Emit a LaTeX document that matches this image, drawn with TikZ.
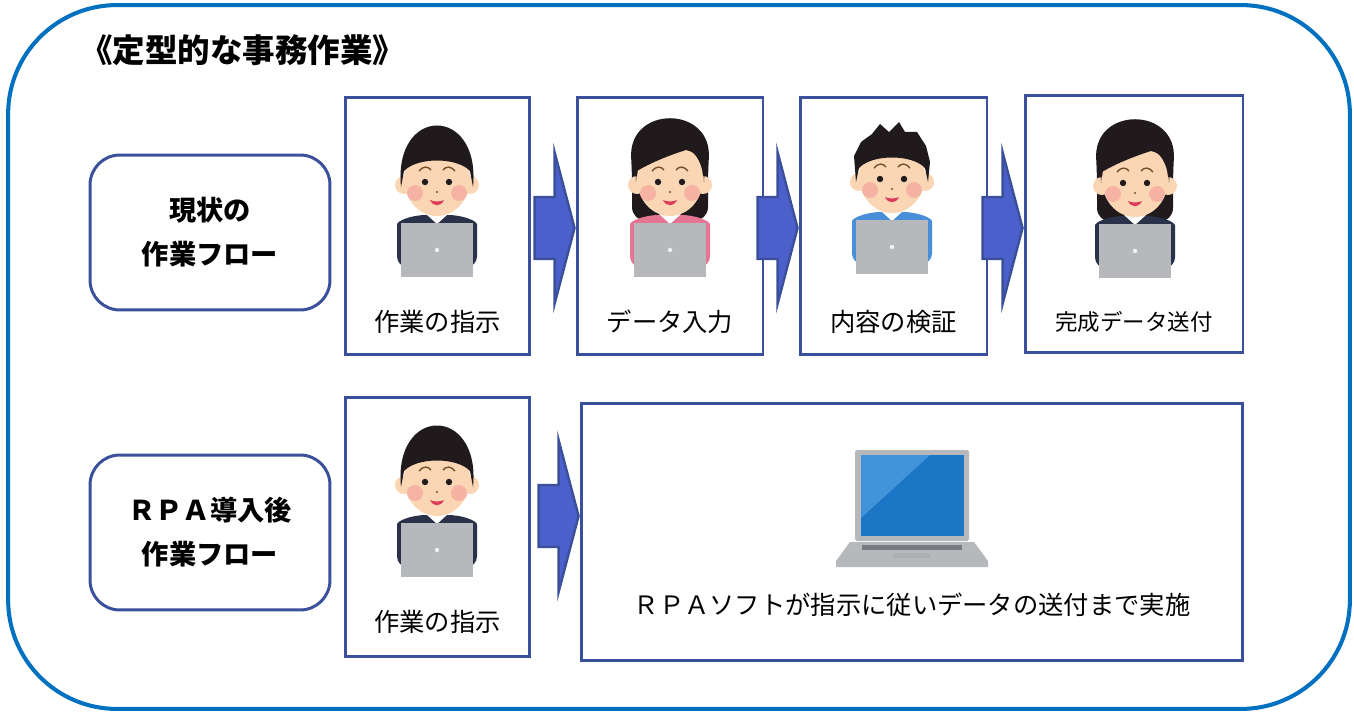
\documentclass[tikz,border=0pt]{standalone}
\usepackage{fontspec}
\setmainfont{Noto Sans CJK JP}
\usetikzlibrary{positioning, calc}
\definecolor{roundblue}{RGB}{0,112,192}
\definecolor{frameblue}{RGB}{59,80,155}
\definecolor{arrowfill}{RGB}{76,96,204}
\definecolor{skin}{RGB}{250,214,180}
\definecolor{cheek}{RGB}{244,150,150}
\definecolor{hairblack}{RGB}{32,26,28}
\definecolor{browcol}{RGB}{120,80,40}
\definecolor{mouthred}{RGB}{220,60,90}
\definecolor{suit}{RGB}{42,50,74}
\definecolor{pinkshirt}{RGB}{228,118,148}
\definecolor{blueshirt}{RGB}{72,142,216}
\definecolor{padgray}{RGB}{182,184,188}
\definecolor{keygray}{RGB}{120,122,128}
\definecolor{screenblue}{RGB}{28,118,198}
\definecolor{screenglare}{RGB}{66,148,218}

\begin{document}
\begin{tikzpicture}[
  x=0.02cm, y=-0.02cm,
  panel/.style={draw=roundblue, line width=2.3pt, rounded corners=62pt},
  lanebox/.style={
    draw=frameblue, line width=1.7pt, rounded corners=17pt,
    minimum width=4.8cm, minimum height=3.1cm, align=center,
    font=\fontsize{15.5}{25}\selectfont\bfseries
  },
  stepbox/.style={draw=frameblue, line width=1.7pt, inner sep=0pt},
  lbl/.style={font=\fontsize{14.4}{17}\selectfont, inner sep=1pt},
  % hair pieces
  pics/shortback/.style={code={}},
  pics/shortfront/.style={code={
    \fill[hairblack] (-36,10) .. controls (-44,-72) and (44,-72) .. (36,10)
      -- (33,-6) .. controls (20,-20) and (-20,-20) .. (-33,-6) -- cycle;
  }},
  pics/spikyback/.style={code={}},
  pics/spikyfront/.style={code={
    \fill[hairblack] (-36,8) -- (-38,-18) -- (-31,-32) -- (-20,-40) -- (-12,-50)
      -- (-3,-42) -- (7,-52) -- (13,-42) -- (25,-42) -- (34,-28) -- (38,-12)
      -- (36,8) -- (33,-6) .. controls (20,-20) and (-20,-20) .. (-33,-6) -- cycle;
  }},
  pics/longback/.style={code={
    \fill[hairblack, rounded corners=8pt] (-38,44) -- (-38,-5)
      .. controls (-42,-72) and (42,-72) .. (38,-5) -- (38,44) -- cycle;
  }},
  pics/longfront/.style={code={
    \fill[hairblack] (-34,5) .. controls (-40,-72) and (40,-72) .. (34,5)
      -- (33,-10) .. controls (28,-22) and (22,-26) .. (16,-27)
      .. controls (0,-22) and (-20,-14) .. (-33,-6) -- cycle;
  }},
  % person at a laptop: #1 hair, #2 shirt colour
  pics/worker/.style 2 args={code={
    \pic {#1back};
    \fill[#2, rounded corners=6pt] (-40,90) -- (-40,58)
      .. controls (-40,44) and (-26,38) .. (0,38)
      .. controls (26,38) and (40,44) .. (40,58) -- (40,90) -- cycle;
    \fill[white] (-11,37) -- (11,37) -- (0,47) -- cycle;
    \fill[skin] (-33,8) circle (9) (33,8) circle (9);
    \fill[skin] (0,2) ellipse (33 and 37);
    \fill[cheek, opacity=0.55] (-22,16) circle (8) (22,16) circle (8);
    \pic {#1front};
    \draw[browcol, line width=0.8pt] (-18,-6) .. controls (-14,-11) and (-9,-11) .. (-6,-7)
      (6,-7) .. controls (9,-11) and (14,-11) .. (18,-6);
    \fill[hairblack] (-12,5) circle (3.2) (12,5) circle (3.2);
    \fill[browcol] (0,15) circle (1.2);
    \fill[mouthred] (-7,23) .. controls (-4,30) and (4,30) .. (7,23)
      .. controls (3,25) and (-3,25) .. (-7,23) -- cycle;
    \fill[padgray] (-36,46) rectangle (36,100);
    \fill[white!80!padgray] (0,73) circle (2.2);
  }},
  % notebook computer
  pics/notebook/.style={code={
    \fill[padgray, rounded corners=1pt] (-57,-50) rectangle (57,41);
    \fill[screenblue] (-51,-45) rectangle (52,36);
    \fill[screenglare] (-51,-45) -- (18,-45) -- (-51,18) -- cycle;
    \fill[padgray] (-62,42) -- (62,42) -- (76,61) -- (76,67) -- (-76,67) -- (-76,61) -- cycle;
    \fill[keygray] (-50,45) rectangle (50,50);
    \fill[keygray!60] (-19,53) rectangle (18,58);
  }},
  % block arrow between steps
  pics/flowarrow/.style={code={
    \filldraw[fill=arrowfill, draw=frameblue, line width=1.4pt]
      (-19,-31) -- (1,-31) -- (1,-76) -- (21,0) -- (1,76) -- (1,31) -- (-19,31) -- cycle;
  }}
]
\useasboundingbox (0,0) rectangle (1354,712);

% outer frame and heading
\node[panel, minimum width=26.84cm, minimum height=14.08cm] (panel) at (679,357) {};
\node[anchor=west, font=\fontsize{18.5}{22}\selectfont\bfseries] (heading) at (74,50) {《定型的な事務作業》};

% lane titles
\node[lanebox] (nowflow) at (210,232.5) {現状の\\作業フロー};
\node[lanebox] (rpaflow) at (210,532.5) {ＲＰＡ導入後\\作業フロー};

% current flow
\node[stepbox, minimum width=3.7cm, minimum height=5.16cm] (order) at (437.5,226) {};
\node[stepbox, minimum width=3.72cm, minimum height=5.16cm] (entry) at (670,226) {};
\node[stepbox, minimum width=3.74cm, minimum height=5.16cm] (check) at (893.5,226) {};
\node[stepbox, minimum width=4.36cm, minimum height=5.16cm] (send) at (1134,224) {};

\pic at (437,177) {worker={short}{suit}};
\pic at (670,177) {worker={long}{pinkshirt}};
\pic at (892,174) {worker={spiky}{blueshirt}};
\pic at (1135,178) {worker={long}{suit}};

\node[lbl] (orderlbl) at ([yshift=0.7cm]order.south) {作業の指示};
\node[lbl] (entrylbl) at ([yshift=0.7cm]entry.south) {データ入力};
\node[lbl] (checklbl) at ([yshift=0.7cm]check.south) {内容の検証};
\node[lbl, font=\fontsize{12.8}{15}\selectfont] (sendlbl) at ([yshift=0.66cm]send.south) {完成データ送付};

\pic at ($(entry.west)+(-22,2)$) {flowarrow};
\pic at ($(check.west)+(-22,2)$) {flowarrow};
\pic at ($(send.west)+(-22,4)$) {flowarrow};

% flow with RPA
\node[stepbox, minimum width=3.7cm, minimum height=5.2cm] (rpaorder) at (437.5,527) {};
\node[stepbox, minimum width=13.24cm, minimum height=5.16cm] (robot) at (912,532) {};

\pic at (437,477) {worker={short}{suit}};
\pic at (912,500) {notebook};

\node[lbl] (rpaorderlbl) at ([yshift=0.74cm]rpaorder.south) {作業の指示};
\node[lbl] (robotlbl) at ([yshift=1.16cm]robot.south) {ＲＰＡソフトが指示に従いデータの送付まで実施};

\pic at ($(robot.west)+(-22,-16)$) {flowarrow};

\end{tikzpicture}
\end{document}
